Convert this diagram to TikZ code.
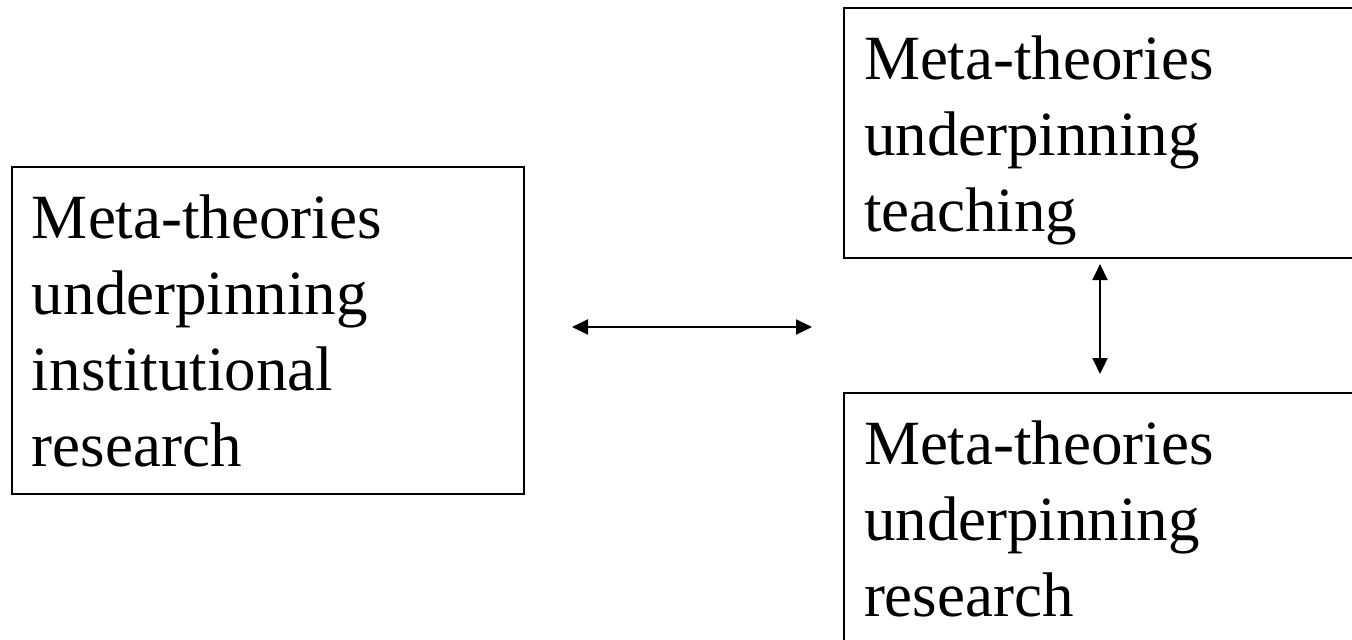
\documentclass[tikz,border=0pt]{standalone}
\usepackage{fontspec}
\setmainfont{Liberation Serif}
\usepackage{tikz}
\usetikzlibrary{arrows.meta}
\usetikzlibrary{positioning}

\begin{document}
\begin{tikzpicture}[x=0.5pt, y=-0.5pt, >={Triangle[length=8pt,width=7.5pt]}, thick,
  box/.style ={rectangle,draw,black,line width=1pt,anchor=north west,inner xsep=10pt,inner ysep=0pt,
    align=left,text height=35.5pt,font=\fontsize{31.5}{38}\selectfont}]
\clip (0,0) rectangle (1352,639);
\node[box, text width=236pt, text depth=128pt] (inst) at (11,166) {Meta-theories\\underpinning\\institutional\\research};
\node[box, text width=250pt, text depth=89.5pt] (teach) at (843,7) {Meta-theories\\underpinning\\teaching};
\node[box, text width=250pt, text depth=94.5pt] (res) at (843,392) {Meta-theories\\underpinning\\research};
%arrow ends
\coordinate (l) at (572,327);
\coordinate (r) at (812,327);
\coordinate (t) at (1100,264);
\coordinate (b) at (1100,374);
\path[<->, line width=1pt]
		(l) edge (r)
		(t) edge (b)
		;
\end{tikzpicture}
\end{document}
